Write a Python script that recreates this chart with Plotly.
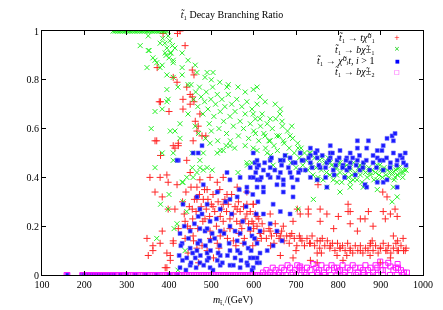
import plotly.graph_objects as go

# ---------------- data ----------------
red_pts = [
    (386, 0.99), (426, 1.0), (420, 0.99), (438, 0.94), (372, 0.85), (455, 0.84), (459, 0.82),
    (410, 0.81), (419, 0.79), (442, 0.77), (450, 0.74), (455, 0.73), (377, 0.71), (380, 0.71),
    (433, 0.72), (459, 0.71), (450, 0.70), (400, 0.67), (433, 0.68), (473, 0.66), (462, 0.63),
    (469, 0.61), (466, 0.59), (478, 0.57), (487, 0.57), (367, 0.55), (422, 0.54), (457, 0.55),
    (371, 0.55), (414, 0.52), (422, 0.53), (380, 0.49), (355, 0.40), (395, 0.41), (367, 0.34),
    (419, 0.37), (348, 0.15), (351, 0.08), (362, 0.10), (395, 0.09), (403, 0.06), (395, 0.03),
    (410, 0.13), (384, 0.18), (410, 0.53), (379, 0.40), (398, 0.38), (384, 0.32), (398, 0.27),
    (414, 0.27), (362, 0.12), (379, 0.13), (403, 0.08), (391, 0.03), (410, 0.14), (422, 0.19),
    (438, 0.22), (450, 0.42), (466, 0.36), (466, 0.31), (455, 0.27), (450, 0.19), (457, 0.16),
    (490, 0.35), (514, 0.38), (537, 0.33), (561, 0.36), (584, 0.34), (599, 0.29), (485, 0.23),
    (504, 0.28), (521, 0.24), (544, 0.23), (568, 0.21), (592, 0.18), (497, 0.18), (521, 0.16),
    (466, 0.11), (490, 0.10), (514, 0.13), (552, 0.14), (575, 0.13), (608, 0.14), (528, 0.29),
    (561, 0.27), (584, 0.25), (481, 0.31), (473, 0.39), (497, 0.40), (528, 0.40), (442, 0.47),
    (432, 0.30), (436, 0.25), (440, 0.34), (444, 0.20), (448, 0.28), (452, 0.36), (456, 0.23),
    (460, 0.31), (464, 0.26), (468, 0.19), (472, 0.33), (476, 0.28), (480, 0.22), (484, 0.35),
    (488, 0.27), (492, 0.31), (496, 0.24), (500, 0.29), (504, 0.33), (508, 0.26), (512, 0.20),
    (516, 0.30), (520, 0.35), (524, 0.27), (528, 0.22), (532, 0.31), (536, 0.26), (540, 0.29),
    (544, 0.19), (548, 0.33), (552, 0.25), (556, 0.28), (560, 0.22), (564, 0.30), (568, 0.26),
    (572, 0.19), (576, 0.28), (580, 0.23), (584, 0.29), (588, 0.21), (592, 0.26), (596, 0.22),
    (600, 0.19), (604, 0.25), (608, 0.20), (612, 0.23), (616, 0.17), (620, 0.21), (438, 0.15),
    (458, 0.14), (478, 0.12), (498, 0.15), (518, 0.11), (538, 0.15), (558, 0.12), (578, 0.15),
    (598, 0.12), (618, 0.15), (445, 0.09), (470, 0.05), (505, 0.07), (530, 0.18), (565, 0.17),
    (599, 0.29), (608, 0.24), (599, 0.21), (615, 0.17), (639, 0.18), (663, 0.16), (686, 0.16),
    (710, 0.15), (734, 0.13), (757, 0.14), (781, 0.12), (804, 0.11), (828, 0.10), (852, 0.10),
    (875, 0.12), (899, 0.11), (915, 0.10), (939, 0.10), (958, 0.10), (693, 0.22), (710, 0.25),
    (729, 0.25), (757, 0.22), (773, 0.25), (800, 0.24), (828, 0.26), (852, 0.23), (863, 0.23),
    (911, 0.23), (923, 0.25), (939, 0.24), (823, 0.26), (828, 0.21), (789, 0.19), (845, 0.18),
    (882, 0.20), (930, 0.16), (953, 0.15), (729, 0.27), (757, 0.27), (871, 0.26), (906, 0.26),
    (934, 0.27), (823, 0.29), (734, 0.06), (750, 0.05), (693, 0.07), (663, 0.08), (811, 0.06),
    (899, 0.05), (670, 0.20), (651, 0.21), (639, 0.25), (703, 0.27), (750, 0.09), (797, 0.08),
    (875, 0.08), (923, 0.07), (752, 0.37), (905, 0.34), (915, 0.32),
    (624, 0.18), (630, 0.15), (636, 0.19), (642, 0.16), (648, 0.13), (654, 0.17), (660, 0.15),
    (666, 0.18), (672, 0.14), (678, 0.16), (684, 0.13), (690, 0.17), (696, 0.15), (702, 0.12),
    (708, 0.16), (714, 0.14), (720, 0.12), (726, 0.15), (732, 0.13), (738, 0.16), (744, 0.12),
    (750, 0.14), (756, 0.11), (762, 0.15), (768, 0.12), (774, 0.14), (780, 0.11), (786, 0.13),
    (792, 0.10), (798, 0.13), (804, 0.11), (810, 0.12), (816, 0.10), (822, 0.13), (828, 0.11),
    (834, 0.09), (840, 0.12), (846, 0.10), (852, 0.12), (858, 0.09), (864, 0.11), (870, 0.10),
    (876, 0.13), (882, 0.10), (888, 0.12), (894, 0.09), (900, 0.11), (906, 0.13), (912, 0.10),
    (918, 0.12), (924, 0.09), (930, 0.11), (936, 0.13), (942, 0.10), (948, 0.12), (954, 0.10),
    (960, 0.11), (640, 0.12), (700, 0.10), (760, 0.09), (820, 0.08), (880, 0.14), (940, 0.14),
]

green_pts = [
    (268, 1.0), (272, 1.0), (276, 1.0), (280, 1.0), (284, 1.0), (288, 1.0), (292, 1.0), (296, 1.0),
    (300, 1.0), (304, 1.0), (308, 1.0), (312, 1.0), (316, 1.0), (320, 1.0), (324, 1.0), (328, 1.0),
    (332, 1.0), (336, 1.0), (340, 1.0), (344, 1.0), (348, 1.0), (352, 1.0), (356, 1.0), (360, 1.0),
    (364, 1.0), (368, 1.0), (372, 1.0), (376, 1.0), (380, 1.0), (384, 1.0), (388, 1.0), (392, 1.0),
    (396, 1.0), (385, 0.97), (390, 0.95), (395, 0.93), (398, 0.98), (402, 0.96), (405, 0.91),
    (408, 0.94), (410, 0.88), (400, 0.89), (393, 0.90), (351, 0.98), (332, 0.94), (351, 0.92),
    (353, 0.92), (379, 0.95), (391, 0.91), (403, 0.91), (414, 0.93), (431, 0.91), (362, 0.89),
    (367, 0.88), (348, 0.85), (379, 0.85), (445, 0.88), (462, 0.86), (410, 0.87), (431, 0.85),
    (395, 0.82), (410, 0.81), (431, 0.82), (466, 0.83), (485, 0.81), (504, 0.83), (537, 0.77),
    (563, 0.77), (580, 0.75), (608, 0.77), (395, 0.76), (421, 0.77), (445, 0.78), (384, 0.68),
    (367, 0.67), (395, 0.71), (426, 0.62), (414, 0.59), (358, 0.60), (426, 0.56), (445, 0.66),
    (371, 0.87), (384, 0.86), (398, 0.72), (403, 0.59), (367, 0.44), (410, 0.47), (380, 0.29),
    (398, 0.27), (371, 0.15), (419, 0.21), (431, 0.38), (442, 0.40), (455, 0.44), (466, 0.42),
    (473, 0.44), (490, 0.44), (502, 0.43), (455, 0.50), (481, 0.50), (514, 0.50), (528, 0.51),
    (585, 0.45), (596, 0.46), (580, 0.53), (599, 0.52), (384, 0.50), (410, 0.50), (400, 0.33),
    (433, 0.38), (433, 0.30), (412, 0.19), (438, 0.10), (442, 0.26), (457, 0.40), (481, 0.43),
    (473, 0.47), (497, 0.54), (521, 0.51), (544, 0.53), (563, 0.42), (584, 0.46), (421, 0.02),
    (452, 0.78), (458, 0.72), (463, 0.75), (468, 0.69), (472, 0.77), (476, 0.73), (480, 0.66),
    (484, 0.71), (488, 0.75), (492, 0.68), (495, 0.62), (499, 0.72), (503, 0.77), (506, 0.65),
    (510, 0.70), (514, 0.74), (518, 0.60), (521, 0.67), (525, 0.72), (529, 0.63), (532, 0.69),
    (536, 0.58), (540, 0.74), (544, 0.65), (548, 0.70), (552, 0.61), (556, 0.67), (560, 0.72),
    (564, 0.57), (568, 0.63), (572, 0.69), (576, 0.60), (580, 0.66), (584, 0.71), (588, 0.56),
    (592, 0.62), (596, 0.68), (600, 0.59), (604, 0.64), (608, 0.70), (612, 0.55), (616, 0.61),
    (620, 0.66), (462, 0.61), (470, 0.58), (486, 0.56), (500, 0.59), (515, 0.55), (535, 0.53),
    (545, 0.55), (555, 0.52), (500, 0.80), (520, 0.79), (540, 0.78), (490, 0.83),
    (599, 0.76), (615, 0.73), (627, 0.71), (651, 0.70), (663, 0.68), (599, 0.66), (615, 0.64),
    (639, 0.64), (667, 0.63), (604, 0.58), (627, 0.57), (655, 0.57), (686, 0.57), (639, 0.55),
    (670, 0.55), (705, 0.52), (608, 0.51), (632, 0.50), (734, 0.50), (762, 0.48), (781, 0.46),
    (797, 0.44), (828, 0.44), (859, 0.43), (875, 0.42), (906, 0.43), (923, 0.42), (939, 0.41),
    (953, 0.42), (835, 0.39), (892, 0.39), (934, 0.40), (797, 0.38), (750, 0.39), (773, 0.36),
    (859, 0.36), (930, 0.36), (804, 0.46), (851, 0.45), (898, 0.45), (939, 0.44), (960, 0.43),
    (828, 0.38), (863, 0.37), (892, 0.35), (927, 0.30), (939, 0.32), (741, 0.31), (705, 0.27),
    (804, 0.34), (828, 0.36),
    (624, 0.58), (628, 0.52), (632, 0.62), (636, 0.55), (640, 0.49), (644, 0.60), (648, 0.53),
    (652, 0.64), (656, 0.51), (660, 0.57), (664, 0.47), (668, 0.61), (672, 0.54), (676, 0.49),
    (680, 0.59), (684, 0.52), (688, 0.46), (692, 0.56), (696, 0.50), (700, 0.44), (704, 0.54),
    (708, 0.48), (712, 0.52), (716, 0.45), (720, 0.50), (646, 0.45), (662, 0.66), (690, 0.61),
    (724, 0.47), (728, 0.43), (732, 0.50), (736, 0.45), (740, 0.41), (744, 0.48), (748, 0.44),
    (752, 0.40), (756, 0.47), (760, 0.43), (764, 0.39), (768, 0.46), (772, 0.42), (776, 0.48),
    (780, 0.41), (784, 0.45), (788, 0.39), (792, 0.44), (796, 0.41), (800, 0.46), (804, 0.42),
    (808, 0.38), (812, 0.44), (816, 0.41), (820, 0.45), (824, 0.40), (828, 0.43), (832, 0.41),
    (836, 0.46), (840, 0.42), (844, 0.39), (848, 0.44), (852, 0.41), (856, 0.38), (860, 0.45),
    (864, 0.42), (868, 0.40), (872, 0.44), (876, 0.41), (880, 0.43), (884, 0.39), (888, 0.42),
    (892, 0.45), (896, 0.41), (900, 0.43), (904, 0.40), (908, 0.44), (912, 0.41), (916, 0.43),
    (920, 0.40), (924, 0.44), (928, 0.42), (932, 0.39), (936, 0.43), (940, 0.41), (944, 0.44),
    (948, 0.42), (952, 0.40), (956, 0.43),
]

blue_pts = [
    (160, 0.0), (195, 0.0), (198, 0.0), (202, 0.0), (206, 0.0), (210, 0.0), (214, 0.0), (218, 0.0),
    (222, 0.0), (226, 0.0), (232, 0.0), (238, 0.0), (245, 0.0), (252, 0.0), (260, 0.0), (270, 0.0),
    (285, 0.0), (300, 0.0), (320, 0.0), (345, 0.0), (370, 0.0), (400, 0.0), (420, 0.0),
    (422, 0.47), (469, 0.50), (478, 0.53), (537, 0.42), (592, 0.40), (608, 0.39), (584, 0.34),
    (561, 0.32), (544, 0.31), (521, 0.27), (433, 0.29), (469, 0.24), (497, 0.22), (485, 0.18),
    (473, 0.19), (521, 0.18), (544, 0.20), (568, 0.17), (596, 0.16), (615, 0.18), (450, 0.11),
    (466, 0.10), (490, 0.09), (521, 0.08), (544, 0.10), (568, 0.09), (592, 0.07), (442, 0.07),
    (426, 0.03), (450, 0.04), (473, 0.05), (497, 0.03), (521, 0.04), (544, 0.04), (568, 0.03),
    (599, 0.03), (462, 0.07), (490, 0.06), (514, 0.06), (556, 0.07), (584, 0.05), (608, 0.07),
    (431, 0.13), (473, 0.14), (497, 0.14), (561, 0.14), (587, 0.11), (608, 0.13), (502, 0.17),
    (466, 0.32), (490, 0.29), (481, 0.37), (514, 0.34), (544, 0.39), (584, 0.36), (603, 0.46),
    (599, 0.50), (426, 0.17), (473, 0.27), (450, 0.18), (457, 0.50), (419, 0.47), (568, 0.40),
    (592, 0.44), (608, 0.47),
    (424, 0.08), (428, 0.12), (432, 0.06), (436, 0.20), (440, 0.02), (446, 0.15), (452, 0.05),
    (456, 0.09), (460, 0.21), (464, 0.03), (468, 0.13), (474, 0.08), (478, 0.25), (482, 0.04),
    (486, 0.12), (490, 0.19), (494, 0.07), (498, 0.10), (504, 0.02), (508, 0.15), (512, 0.23),
    (516, 0.09), (520, 0.12), (526, 0.05), (530, 0.17), (534, 0.30), (538, 0.08), (542, 0.13),
    (548, 0.25), (552, 0.04), (556, 0.18), (562, 0.10), (566, 0.35), (570, 0.06), (574, 0.22),
    (578, 0.13), (582, 0.28), (586, 0.04), (590, 0.19), (594, 0.10), (598, 0.33), (602, 0.15),
    (606, 0.25), (610, 0.30), (614, 0.05),
    (608, 0.36), (623, 0.34), (646, 0.29), (663, 0.26), (686, 0.25), (623, 0.25), (639, 0.21),
    (655, 0.18), (667, 0.14), (646, 0.12), (632, 0.10), (615, 0.09), (599, 0.07), (608, 0.05),
    (596, 0.02), (670, 0.34), (693, 0.32), (773, 0.36), (670, 0.37), (863, 0.37), (906, 0.38),
    (608, 0.44), (639, 0.44), (670, 0.47), (693, 0.46), (734, 0.52), (750, 0.51), (781, 0.50),
    (804, 0.51), (845, 0.52), (871, 0.55), (915, 0.56), (927, 0.57), (934, 0.58), (930, 0.55),
    (958, 0.50), (960, 0.45), (951, 0.48), (903, 0.51), (892, 0.48), (906, 0.47), (923, 0.46),
    (939, 0.47), (882, 0.46), (820, 0.48), (828, 0.46), (845, 0.47), (859, 0.46), (797, 0.47),
    (811, 0.45), (773, 0.46), (788, 0.43), (820, 0.43), (851, 0.43), (757, 0.44), (734, 0.46),
    (717, 0.47), (710, 0.43), (686, 0.42), (663, 0.42), (639, 0.40), (615, 0.39), (670, 0.39),
    (703, 0.39), (734, 0.40), (750, 0.39), (693, 0.36), (655, 0.37), (623, 0.36), (867, 0.36),
    (939, 0.36), (915, 0.39), (892, 0.38), (750, 0.48), (781, 0.48), (828, 0.50), (734, 0.49),
    (686, 0.48), (710, 0.50), (663, 0.47), (639, 0.47), (623, 0.43), (599, 0.40), (906, 0.53),
    (892, 0.51), (867, 0.52), (781, 0.53), (845, 0.55),
    (605, 0.42), (612, 0.45), (618, 0.40), (626, 0.46), (634, 0.41), (642, 0.48), (650, 0.43),
    (658, 0.40), (666, 0.45), (674, 0.49), (682, 0.44), (690, 0.40), (698, 0.46), (706, 0.42),
    (714, 0.47), (722, 0.43), (730, 0.48), (738, 0.44), (746, 0.50), (754, 0.45), (762, 0.49),
    (770, 0.44), (778, 0.47), (786, 0.50), (794, 0.45), (802, 0.48), (810, 0.44), (818, 0.47),
    (826, 0.44), (834, 0.48), (842, 0.45), (850, 0.49), (858, 0.44), (866, 0.47), (874, 0.43),
    (882, 0.49), (890, 0.44), (898, 0.47), (906, 0.43), (914, 0.48), (922, 0.44), (930, 0.50),
    (938, 0.45), (946, 0.49), (954, 0.46), (790, 0.41), (815, 0.40), (840, 0.41), (770, 0.40),
]

magenta_zero_x = [
    158, 160, 195, 199, 203, 207, 211, 215, 219, 223, 227, 231, 235, 239, 243, 247, 251, 255,
    259, 263, 267, 271, 275, 279, 283, 287, 291, 295, 299, 303, 307, 311, 315, 319, 323, 327,
    331, 335, 339, 343, 347, 351, 355, 359, 363, 367, 371, 375, 379, 383, 387, 391, 395, 399,
    403, 407, 411, 415, 419, 423, 427, 431, 435, 439, 443, 447, 451, 455, 459, 463, 467, 471,
    475, 479, 483, 487, 491, 495, 499, 503, 507, 511, 515, 519, 523, 527, 531, 535, 539, 543,
    547, 551, 555, 559, 563, 567, 571, 575, 579, 583, 587, 591, 595, 599, 603, 607, 611, 615,
    619, 626, 634, 642, 650, 658, 668, 676, 688, 700, 712, 724, 738, 752, 768, 782, 796, 812,
    826, 842, 858, 874, 890, 906, 922, 938, 952,
]
magenta_pts = [
    (622, 0.01), (630, 0.02), (638, 0.01), (645, 0.03), (652, 0.02), (660, 0.01), (666, 0.03),
    (672, 0.02), (680, 0.04), (686, 0.03), (692, 0.01), (698, 0.02), (703, 0.04), (708, 0.03),
    (714, 0.02), (720, 0.01), (726, 0.03), (734, 0.02), (741, 0.045), (748, 0.03), (754, 0.02),
    (760, 0.04), (766, 0.01), (772, 0.03), (778, 0.02), (784, 0.04), (790, 0.03), (797, 0.03),
    (804, 0.02), (810, 0.04), (816, 0.01), (822, 0.03), (828, 0.02), (834, 0.04), (840, 0.03),
    (846, 0.01), (852, 0.03), (858, 0.02), (864, 0.04), (870, 0.02), (876, 0.03), (882, 0.01),
    (888, 0.04), (892, 0.03), (899, 0.055), (905, 0.02), (911, 0.04), (918, 0.05), (923, 0.035),
    (930, 0.02), (936, 0.03), (941, 0.03), (948, 0.02), (955, 0.01), (962, 0.01), (710, 0.035),
    (750, 0.01), (800, 0.015), (860, 0.01), (900, 0.02), (940, 0.045),
]

x_ticks = [100, 200, 300, 400, 500, 600, 700, 800, 900, 1000]
y_ticks = [0, 0.2, 0.4, 0.6, 0.8, 1]
y_tick_text = ["0", "0.2", "0.4", "0.6", "0.8", "1"]

legend_labels = [
    "<i>t\u0303</i>\u2081 \u2192 <i>t\u03c7\u0303</i>\u2070\u2081",
    "<i>t\u0303</i>\u2081 \u2192 <i>b\u03c7\u0303</i>\u00b1\u2081",
    "<i>t\u0303</i>\u2081 \u2192 <i>\u03c7\u0303</i>\u2070<i>\u1d62t</i>, <i>i</i> > 1",
    "<i>t\u0303</i>\u2081 \u2192 <i>b\u03c7\u0303</i>\u00b1\u2082",
]

# ---------------- figure ----------------
FONT = "Liberation Serif, DejaVu Serif, serif"
W, H = 435, 302          # page has an 8px body margin
OFF = 8
PL, PR, PT, PB = 42 - OFF, 423 - OFF, 31 - OFF, 275 - OFF   # plot box in figure pixels


def unzip(pts):
    return [p[0] for p in pts], [p[1] for p in pts]


def px_x(px):
    return (px - OFF - PL) / (PR - PL)


def px_y(py):
    return (PB - (py - OFF)) / (PB - PT)


rx, ry = unzip(red_pts)
gx, gy = unzip(green_pts)
bx, by = unzip(blue_pts)
mx, my = unzip(magenta_pts)
mx = magenta_zero_x + mx
my = [0.0] * len(magenta_zero_x) + my

fig = go.Figure()
fig.add_trace(go.Scatter(x=rx, y=ry, mode="markers", showlegend=False,
                         marker=dict(symbol="cross-thin", size=5, color="rgba(0,0,0,0)",
                                     line=dict(color="#ff0000", width=1)), opacity=0.85))
fig.add_trace(go.Scatter(x=gx, y=gy, mode="markers", showlegend=False,
                         marker=dict(symbol="x-thin", size=5, color="rgba(0,0,0,0)",
                                     line=dict(color="#00ee00", width=1)), opacity=0.85))
fig.add_trace(go.Scatter(x=bx, y=by, mode="markers", showlegend=False,
                         marker=dict(symbol="square", size=4, color="#0000ff",
                                     line=dict(color="#6060ff", width=0.6)), opacity=0.9))
fig.add_trace(go.Scatter(x=mx, y=my, mode="markers", showlegend=False,
                         marker=dict(symbol="square-open", size=5, color="#ff00ff",
                                     line=dict(color="#ff00ff", width=1)), opacity=0.9))

# legend (text on the left, symbol on the right, as in the reference)
legend_syms = ["+", "\u00d7", "\u25a0", "\u25a1"]
legend_cols = ["#ff0000", "#00cc00", "#0000ff", "#ff00ff"]
legend_sizes = [7, 7, 5, 6]
for i, (lab, sym, col, sz) in enumerate(zip(legend_labels, legend_syms, legend_cols, legend_sizes)):
    ypix = 38 + i * 11.3
    fig.add_annotation(x=px_x(377), y=px_y(ypix), xref="paper", yref="paper", text=lab,
                       showarrow=False, xanchor="right", yanchor="middle",
                       font=dict(family=FONT, size=10, color="#000"))
    fig.add_annotation(x=px_x(397), y=px_y(ypix), xref="paper", yref="paper", text=sym,
                       showarrow=False, xanchor="center", yanchor="middle",
                       font=dict(family="DejaVu Sans", size=sz, color=col))

fig.add_annotation(x=0.5, y=px_y(300), xref="paper", yref="paper",
                   text="<i>m</i><sub>t\u0303\u2081</sub>/(GeV)", showarrow=False,
                   xanchor="center", yanchor="middle", font=dict(family=FONT, size=10, color="#000"))

axis_common = dict(showline=True, linecolor="#000", linewidth=1, mirror="ticks",
                   ticks="inside", ticklen=4, tickcolor="#000", tickwidth=1,
                   showgrid=False, zeroline=False, automargin=False,
                   tickfont=dict(family=FONT, size=10, color="#000"))

fig.update_layout(
    width=W, height=H,
    margin=dict(l=PL, r=W - PR, t=PT, b=H - PB),
    paper_bgcolor="#fff", plot_bgcolor="#fff",
    title=dict(text="<i>t\u0303</i>\u2081 Decay Branching Ratio", x=(232 - OFF) / W, xanchor="center",
               y=1 - (14 - OFF) / H, yanchor="middle", font=dict(family=FONT, size=10, color="#000")),
    xaxis=dict(range=[100, 1000], tickvals=x_ticks, **axis_common),
    yaxis=dict(range=[0, 1], tickvals=y_ticks, ticktext=y_tick_text, **axis_common),
)

fig.write_html("out.html")
